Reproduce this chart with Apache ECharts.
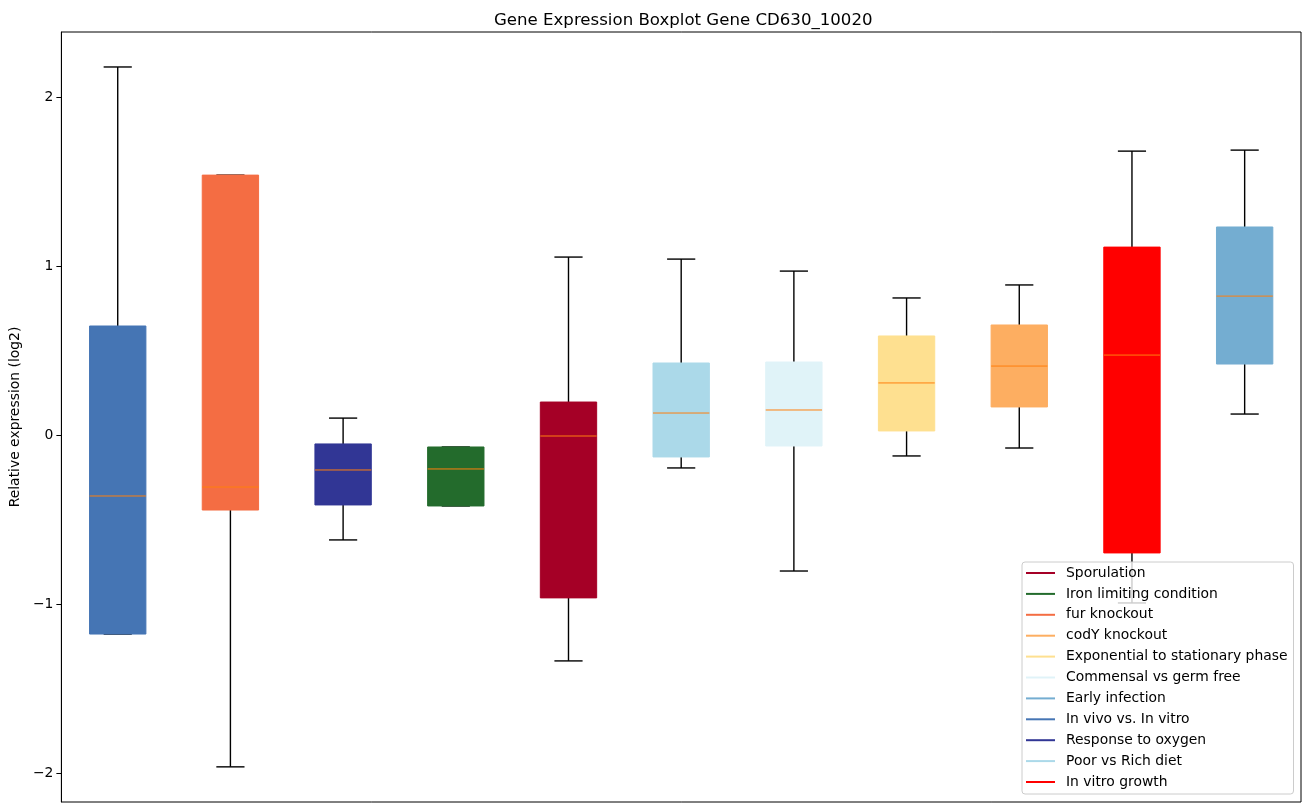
<!DOCTYPE html>
<html>
<head>
<meta charset="utf-8">
<script src="https://cdn.jsdelivr.net/npm/echarts@6/dist/echarts.min.js"></script>
<style>
  html, body { margin: 0; padding: 0; background: #fff; }
  #main { width: 1309px; height: 812px; }
</style>
</head>
<body>
<div id="main"></div>
<script>
// boxes, left to right
var groups = ['In vivo vs. In vitro', 'fur knockout', 'Response to oxygen', 'Iron limiting condition',
  'Sporulation', 'Poor vs Rich diet', 'Commensal vs germ free', 'Exponential to stationary phase',
  'codY knockout', 'In vitro growth', 'Early infection'];
var whiskerLow  = [-1.178, -1.964, -0.621, -0.420, -1.337, -0.195, -0.805, -0.124, -0.077, -0.994, 0.124];
var q1          = [-1.178, -0.444, -0.414, -0.420, -0.964, -0.130, -0.065,  0.024,  0.166, -0.698, 0.420];
var medians     = [-0.361, -0.308, -0.207, -0.201, -0.006,  0.130,  0.148,  0.308,  0.408,  0.473, 0.822];
var q3          = [ 0.645,  1.538, -0.053, -0.071,  0.195,  0.426,  0.432,  0.586,  0.651,  1.112, 1.231];
var whiskerHigh = [ 2.178,  1.538,  0.100, -0.071,  1.053,  1.041,  0.970,  0.811,  0.888,  1.680, 1.686];
var yTicks = [-2, -1, 0, 1, 2];

// legend order
var legendOrder = ['Sporulation', 'Iron limiting condition', 'fur knockout', 'codY knockout',
  'Exponential to stationary phase', 'Commensal vs germ free', 'Early infection',
  'In vivo vs. In vitro', 'Response to oxygen', 'Poor vs Rich diet', 'In vitro growth'];

var colorOf = {
  'Sporulation': '#a50026',
  'Iron limiting condition': '#236b2c',
  'fur knockout': '#f46d43',
  'codY knockout': '#fdae61',
  'Exponential to stationary phase': '#fee090',
  'Commensal vs germ free': '#e0f3f8',
  'Early infection': '#74add1',
  'In vivo vs. In vitro': '#4575b4',
  'Response to oxygen': '#313695',
  'Poor vs Rich diet': '#abd9e9',
  'In vitro growth': '#ff0000'
};

var boxData = groups.map(function (g, i) {
  return [i + 1, whiskerLow[i], q1[i], medians[i], q3[i], whiskerHigh[i], i];
});

function renderBox(params, api) {
  var x = api.value(0);
  var i = api.value(6);
  var pLow = api.coord([x, api.value(1)]);
  var pQ1 = api.coord([x, api.value(2)]);
  var pMed = api.coord([x, api.value(3)]);
  var pQ3 = api.coord([x, api.value(4)]);
  var pHigh = api.coord([x, api.value(5)]);
  var halfBox = (api.coord([x + 0.25, 0])[0] - pQ1[0]);
  var halfCap = halfBox / 2;
  var black = { stroke: '#000', lineWidth: 1.4 };
  var color = colorOf[groups[i]];
  return {
    type: 'group',
    children: [
      { type: 'line', shape: { x1: pQ3[0], y1: pQ3[1], x2: pHigh[0], y2: pHigh[1] }, style: black },
      { type: 'line', shape: { x1: pQ1[0], y1: pQ1[1], x2: pLow[0], y2: pLow[1] }, style: black },
      { type: 'line', shape: { x1: pHigh[0] - halfCap, y1: pHigh[1], x2: pHigh[0] + halfCap, y2: pHigh[1] }, style: black },
      { type: 'line', shape: { x1: pLow[0] - halfCap, y1: pLow[1], x2: pLow[0] + halfCap, y2: pLow[1] }, style: black },
      { type: 'rect', shape: { x: pQ3[0] - halfBox, y: pQ3[1], width: halfBox * 2, height: pQ1[1] - pQ3[1] },
        style: { fill: color, stroke: color, lineWidth: 1 } },
      { type: 'line', shape: { x1: pMed[0] - halfBox, y1: pMed[1], x2: pMed[0] + halfBox, y2: pMed[1] },
        style: { stroke: '#ff7f0e', lineWidth: 1 } }
    ]
  };
}

var series = [{
  type: 'custom',
  renderItem: renderBox,
  data: boxData,
  encode: { x: 0, y: [1, 2, 3, 4, 5] },
  silent: true,
  z: 2
}];
legendOrder.forEach(function (name) {
  series.push({ type: 'line', name: name, data: [], color: colorOf[name], lineStyle: { color: colorOf[name] } });
});

var myChart = echarts.init(document.getElementById('main'));
myChart.setOption({
  animation: false,
  textStyle: { fontFamily: 'DejaVu Sans' },
  title: {
    text: 'Gene Expression Boxplot Gene CD630_10020',
    left: 489, top: 7,
    textStyle: { fontSize: 16.6, fontWeight: 'normal', color: '#000', fontFamily: 'DejaVu Sans' }
  },
  grid: {
    left: 60, right: 8, top: 32, bottom: 10,
    show: true, borderColor: '#000', borderWidth: 1, backgroundColor: '#fff'
  },
  legend: {
    orient: 'vertical',
    left: 1022, top: 562,
    width: 271,
    padding: [4, 6, 5, 4],
    itemGap: 6.9,
    itemWidth: 29, itemHeight: 14,
    icon: 'path://M0,6 L29,6 L29,8 L0,8 Z',
    backgroundColor: 'rgba(255,255,255,0.8)',
    borderColor: '#cccccc', borderWidth: 1, borderRadius: 3,
    textStyle: { fontSize: 13.9, color: '#000', fontFamily: 'DejaVu Sans', padding: [0, 0, 0, 6] },
    data: legendOrder
  },
  xAxis: {
    type: 'value', min: 0.5, max: 11.5,
    axisLine: { show: false }, axisTick: { show: false }, axisLabel: { show: false },
    splitLine: { show: false }
  },
  yAxis: {
    type: 'value', min: -2.172, max: 2.385,
    name: 'Relative expression (log2)',
    nameLocation: 'middle', nameGap: 36,
    nameTextStyle: { fontSize: 13.9, color: '#000', fontFamily: 'DejaVu Sans' },
    axisLine: { show: true, lineStyle: { color: '#000' } },
    axisTick: { show: true, length: 5, lineStyle: { color: '#000' }, customValues: yTicks },
    axisLabel: {
      fontSize: 13.9, color: '#000', margin: 8, customValues: yTicks,
      formatter: function (v) { return String(v).replace('-', '\u2212'); }
    },
    splitLine: { show: false }
  },
  series: series
});
</script>
</body>
</html>
